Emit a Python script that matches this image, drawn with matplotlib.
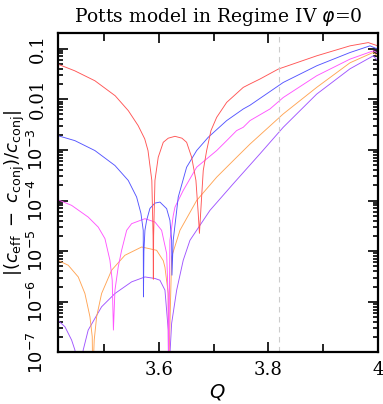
"""
plot.py
=======
Potts model in Regime IV (phi = 0): relative deviation of c_eff from c_conj vs Q.
Writes out.png (383x404 px).
"""

import matplotlib
matplotlib.use("Agg")
import matplotlib.pyplot as plt
from matplotlib.ticker import FixedLocator, FixedFormatter, LogLocator, MultipleLocator

# ── data ──────────────────────────────────────────────────────────────────────

q_red = [3.415, 3.446, 3.483, 3.520, 3.544, 3.562, 3.574, 3.580, 3.587, 3.5893,
         3.5898, 3.5903, 3.5927, 3.5987, 3.6079, 3.617, 3.6293, 3.642, 3.6506,
         3.6598, 3.6676, 3.6718, 3.6740, 3.6780, 3.6810, 3.6872, 3.6951, 3.7055,
         3.7238, 3.7541, 3.7664, 3.7846, 3.8181, 3.8883, 3.9492, 3.9826, 4.0]
y_red = [0.0493, 0.0364, 0.0231, 0.0117, 0.00594, 0.00301, 0.00165, 9.7e-4,
         2.49e-4, 2.0e-5, 2.8e-6, 2.0e-5, 2.49e-4, 7.14e-4, 1.41e-3, 1.70e-3,
         1.85e-3, 1.70e-3, 1.41e-3, 7.14e-4, 2.49e-4, 5.57e-5, 2.25e-5, 1.17e-4,
         3.92e-4, 9.68e-4, 2.40e-3, 4.38e-3, 8.65e-3, 0.0171, 0.0200, 0.0250,
         0.0393, 0.0718, 0.113, 0.131, 0.113]

q_blue = [3.415, 3.4464, 3.483, 3.5196, 3.5439, 3.5592, 3.5671, 3.5713, 3.5717,
          3.5725, 3.5744, 3.5775, 3.5835, 3.5927, 3.6018, 3.6141, 3.6201, 3.6232,
          3.6238, 3.6261, 3.6353, 3.6506, 3.6689, 3.6901, 3.7238, 3.7541, 3.7664,
          3.8272, 3.8883, 3.9492, 3.9857, 4.0]
y_blue = [1.91e-3, 1.52e-3, 9.68e-4, 4.91e-4, 2.49e-4, 1.17e-4, 5.57e-5, 2.58e-5,
          1.25e-6, 1.0e-5, 2.58e-5, 4.05e-5, 6.98e-5, 8.89e-5, 9.31e-5, 6.90e-5,
          4.05e-5, 1.64e-5, 3.36e-6, 1.64e-5, 1.17e-4, 4.54e-4, 9.68e-4, 1.77e-3,
          3.78e-3, 6.41e-3, 7.6e-3, 0.0214, 0.0456, 0.0834, 0.113, 0.0973]

q_magenta = [3.415, 3.4404, 3.4707, 3.4890, 3.5013, 3.5104, 3.5146, 3.5168,
             3.5196, 3.5256, 3.5318, 3.5410, 3.5501, 3.5744, 3.5927, 3.6049,
             3.6141, 3.6168, 3.6176, 3.6201, 3.6261, 3.6293, 3.6444, 3.6689,
             3.7055, 3.7238, 3.7420, 3.7541, 3.7664, 3.8029, 3.8272, 3.8883,
             3.9492, 3.9918, 4.0]
y_magenta = [1.04e-4, 8.02e-5, 4.71e-5, 2.99e-5, 1.77e-5, 6.62e-6, 2.67e-6,
             2.77e-7, 1.70e-6, 4.89e-6, 1.04e-5, 2.58e-5, 3.49e-5, 4.38e-5,
             3.76e-5, 2.58e-5, 8.97e-6, 1.25e-6, 3e-8, 1.64e-5, 5.0e-5, 7.41e-5,
             1.58e-4, 4.54e-4, 9.68e-4, 1.52e-3, 2.40e-3, 2.79e-3, 3.78e-3,
             6.41e-3, 0.0108, 0.0290, 0.0618, 0.0901, 0.0823]

q_orange = [3.415, 3.4342, 3.4525, 3.4647, 3.4739, 3.4781, 3.4790, 3.4817, 3.4861,
            3.4952, 3.5135, 3.5378, 3.5684, 3.5958, 3.6079, 3.6110, 3.6170, 3.6176,
            3.6232, 3.6384, 3.6689, 3.7055, 3.7420, 3.7664, 3.8272, 3.8883, 3.9492,
            3.9912, 4.0]
y_orange = [6.62e-6, 5.28e-6, 3.10e-6, 1.46e-6, 5.07e-7, 2.05e-7, 3e-8, 1.76e-7,
            5.07e-7, 1.46e-6, 4.21e-6, 8.30e-6, 1.21e-5, 1.04e-5, 6.5e-6, 4.8e-6,
            1.46e-6, 3e-8, 7.69e-6, 2.58e-5, 1.00e-4, 2.89e-4, 7.14e-4, 1.3e-3,
            5.12e-3, 0.0171, 0.0523, 0.0834, 0.0718]

q_purple = [3.415, 3.4282, 3.4404, 3.4464, 3.4547, 3.4616, 3.4707, 3.4952, 3.5196,
            3.5501, 3.5744, 3.5927, 3.6018, 3.6110, 3.6170, 3.6176, 3.6232, 3.6324,
            3.6444, 3.6567, 3.6932, 3.7358, 3.7846, 3.8272, 3.8883, 3.9492, 3.9918,
            4.0]
y_purple = [4.36e-7, 3.22e-7, 1.76e-7, 1.12e-7, 3e-8, 1.12e-7, 2.77e-7, 7.98e-7,
            1.46e-6, 2.48e-6, 3.10e-6, 2.89e-6, 2.67e-6, 1.70e-6, 2.77e-7, 3e-8,
            3.76e-7, 1.70e-6, 6.62e-6, 1.64e-5, 6.38e-5, 2.14e-4, 8.34e-4, 2.79e-3,
            0.0126, 0.0398, 0.0718, 0.0573]

q_marker = 3.82          # dashed vertical line

x_ticks = [3.6, 3.8, 4.0]
x_ticklabels = ["3.6", "3.8", "4"]
y_ticks = [1e-7, 1e-6, 1e-5, 1e-4, 1e-3, 1e-2, 1e-1]
y_ticklabels = [r"$10^{-7}$", r"$10^{-6}$", r"$10^{-5}$", r"$10^{-4}$",
                r"$10^{-3}$", "0.01", "0.1"]

# ── figure ────────────────────────────────────────────────────────────────────

plt.rcParams["font.family"] = ["DejaVu Serif"]
plt.rcParams["mathtext.fontset"] = "dejavusans"

fig = plt.figure(figsize=(3.83, 4.04), dpi=100)
ax = fig.add_axes([0.1507, 0.1275, 0.8357, 0.7901])

series = [
    (q_purple, y_purple, "#a055ff"),
    (q_orange, y_orange, "#ffa555"),
    (q_magenta, y_magenta, "#ff55ff"),
    (q_blue, y_blue, "#5555ff"),
    (q_red, y_red, "#ff5555"),
]
for q, y, c in series:
    ax.plot(q, y, color=c, lw=0.65)

ax.axvline(q_marker, color="#cccccc", lw=0.8, ls=(0, (5, 4)))

ax.set_yscale("log")
ax.set_xlim(3.415, 4.0)
ax.set_ylim(1e-7, 0.2)

ax.xaxis.set_major_locator(FixedLocator(x_ticks))
ax.xaxis.set_major_formatter(FixedFormatter(x_ticklabels))
ax.xaxis.set_minor_locator(MultipleLocator(0.1))
ax.yaxis.set_major_locator(FixedLocator(y_ticks))
ax.yaxis.set_major_formatter(FixedFormatter(y_ticklabels))
ax.yaxis.set_minor_locator(LogLocator(base=10, subs=range(2, 10), numticks=20))

ax.tick_params(which="both", direction="in", top=True, right=True, width=1.2)
ax.tick_params(which="major", length=7, labelsize=13, pad=6)
ax.tick_params(which="minor", length=3.5)
ax.tick_params(axis="x", which="minor", length=6)
ax.tick_params(axis="y", which="major", labelrotation=90, pad=8)
for lab in ax.get_yticklabels():
    lab.set_va("center")

for s in ax.spines.values():
    s.set_linewidth(1.6)

ax.set_xlabel(r"$Q$", fontsize=14, labelpad=2)
ax.set_ylabel(r"$|(c_{\rm eff}\ -\ c_{\rm conj})/c_{\rm conj}|$", fontsize=13,
              labelpad=0)
ax.set_title(r"Potts model in Regime IV $\varphi$=0", fontsize=13.5, pad=8)

fig.savefig("out.png", dpi=100)
